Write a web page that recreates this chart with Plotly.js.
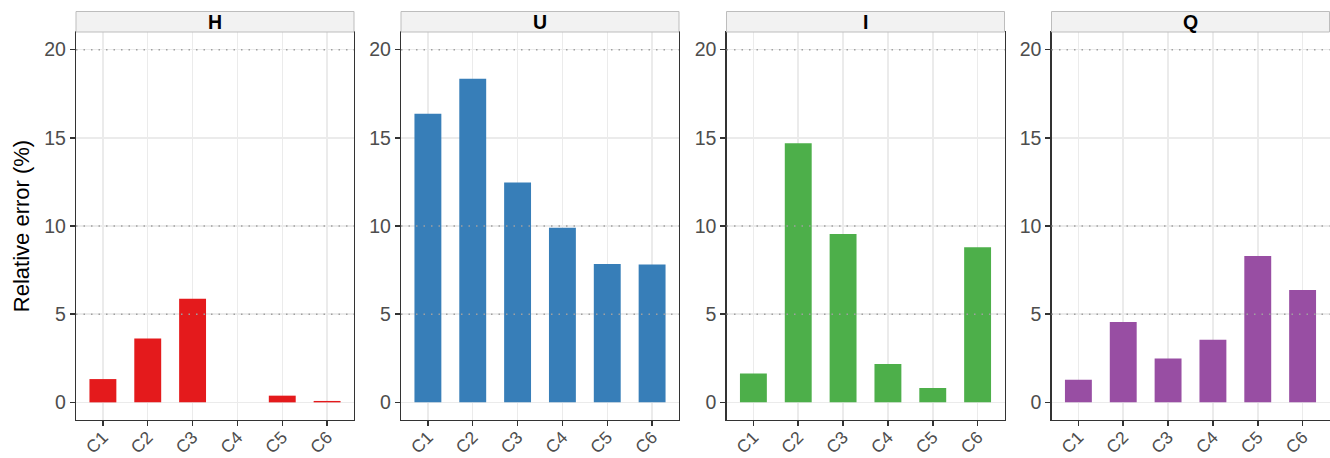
<!DOCTYPE html>
<html>
<head>
<meta charset="utf-8">
<script src="https://cdn.plot.ly/plotly-3.0.1.min.js"></script>
<style>html,body{margin:0;padding:0;background:#fff;}#chart{width:1330px;height:458px;}</style>
</head>
<body>
<div id="chart"></div>
<script>
const categories = ["C1", "C2", "C3", "C4", "C5", "C6"];
const panels = ["H", "U", "I", "Q"];
const valuesH = [1.32, 3.62, 5.88, 0, 0.38, 0.08];
const valuesU = [16.37, 18.35, 12.47, 9.90, 7.85, 7.81];
const valuesI = [1.64, 14.69, 9.54, 2.17, 0.81, 8.79];
const valuesQ = [1.28, 4.56, 2.49, 3.55, 8.30, 6.37];
const colors = ["#E41A1C", "#377EB8", "#4DAF4A", "#984EA3"];
const yTicks = [0, 5, 10, 15, 20];
const refLines = [5, 10, 20];
const seriesValues = [valuesH, valuesU, valuesI, valuesQ];

const W = 1330, H = 458;
const panelLeft = [76, 401, 726.5, 1051.5];
const panelWidth = 278;
const plotTop = 32, plotBottom = 420, stripTop = 11.5;

const data = [];
const shapes = [];
const annotations = [];
const layout = {
  width: W, height: H,
  margin: {l: 0, r: 0, t: 0, b: 0},
  paper_bgcolor: "#ffffff",
  plot_bgcolor: "#ffffff",
  showlegend: false,
  font: {family: "Liberation Sans, Arial, sans-serif", color: "#4d4d4d"},
  bargap: 0.4
};

panels.forEach((p, i) => {
  const n = i === 0 ? "" : String(i + 1);
  const xa = "x" + n, ya = "y" + n;
  data.push({
    type: "bar",
    x: categories,
    y: seriesValues[i],
    xaxis: xa, yaxis: ya,
    width: 0.6,
    marker: {color: colors[i], line: {width: 0}},
    hoverinfo: "x+y"
  });
  const d0 = panelLeft[i] / W, d1 = (panelLeft[i] + panelWidth) / W;
  layout["xaxis" + n] = {
    domain: [d0, d1],
    anchor: ya,
    type: "category",
    range: [-0.6, 5.6],
    showgrid: true, gridcolor: "#ebebeb", gridwidth: 1.5,
    showline: true, linecolor: "#333333", linewidth: 1.2, mirror: true,
    ticks: "outside", ticklen: 5, tickwidth: 1.5, tickcolor: "#333333",
    tickangle: -45,
    ticklabelstandoff: -6,
    tickfont: {size: 17.5, color: "#4d4d4d"},
    zeroline: false, fixedrange: true
  };
  layout["yaxis" + n] = {
    domain: [(H - plotBottom) / H, (H - plotTop) / H],
    anchor: xa,
    range: [-1, 21],
    tickvals: yTicks,
    ticktext: yTicks.map(String),
    showgrid: true, gridcolor: "#ebebeb", gridwidth: 1.5,
    showline: true, linecolor: "#333333", linewidth: 1.2, mirror: true,
    ticks: "outside", ticklen: 5, tickwidth: 1.5, tickcolor: "#333333",
    tickfont: {size: 19.5, color: "#4d4d4d"},
    zeroline: false, fixedrange: true
  };
  if (i === 0) {
    layout.yaxis.title = {text: "Relative error (%)", font: {size: 22, color: "#000000"}, standoff: 8};
  }
  refLines.forEach(v => {
    shapes.push({
      type: "line", xref: xa + " domain", yref: ya,
      x0: 0, x1: 1, y0: v, y1: v,
      line: {color: "#a0a0a0", width: 1.5, dash: "1.5px,6px"},
      layer: "above"
    });
  });
  shapes.push({
    type: "rect", xref: "paper", yref: "paper",
    x0: d0, x1: d1, y0: (H - plotTop) / H, y1: (H - stripTop) / H,
    fillcolor: "#f2f2f2", line: {color: "#bdbdbd", width: 1}
  });
  annotations.push({
    xref: "paper", yref: "paper",
    x: (d0 + d1) / 2, y: (H - (plotTop + stripTop) / 2) / H,
    xanchor: "center", yanchor: "middle",
    text: "<b>" + p + "</b>", showarrow: false,
    font: {size: 19.5, color: "#000000"}
  });
});
layout.shapes = shapes;
layout.annotations = annotations;

Plotly.newPlot("chart", data, layout, {displayModeBar: false, staticPlot: true});
</script>
</body>
</html>
